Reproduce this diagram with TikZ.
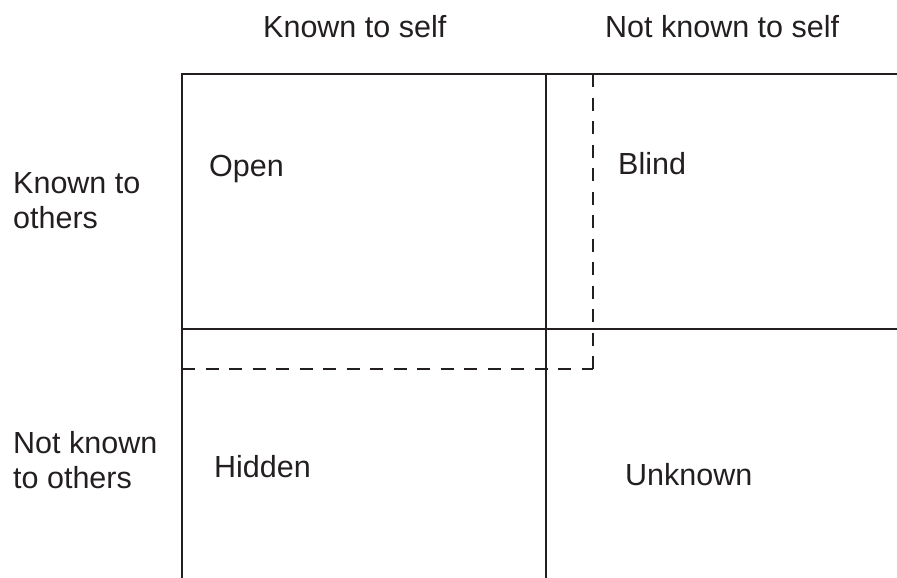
\documentclass[tikz,border=0pt]{standalone}
\usepackage{fontspec}
\setmainfont{Liberation Sans}
\definecolor{ink}{HTML}{231F20}
\begin{document}
\begin{tikzpicture}[x=1pt,y=-1pt,
  gridline/.style={draw=ink,line width=1.6pt},
  dashline/.style={draw=ink,line width=1.6pt,dash pattern=on 13pt off 10.5pt},
  lbl/.style={anchor=base west,inner sep=0pt,text=ink,align=left,
    font=\fontsize{30.5}{35}\selectfont}]
\useasboundingbox (0,0) rectangle (897,578);
% grid corners
\coordinate (tl) at (182,74);
\coordinate (tm) at (546,74);
\coordinate (tr) at (897,74);
\coordinate (ml) at (182,329);
\coordinate (mr) at (897,329);
\coordinate (bl) at (182,578);
\coordinate (bm) at (546,578);
\coordinate (dtop) at (593,74);
\coordinate (dcorner) at (593,369);
\coordinate (dleft) at (182,369);
% solid lines
\draw[gridline] (bl) -- (tl) -- (tr);
\draw[gridline] (tm) -- (bm);
\draw[gridline] (ml) -- (mr);
% dashed boundary
\draw[dashline] (dtop) -- (dcorner);
\draw[dashline] (dleft) -- (dcorner);
% labels
\node[lbl] (kts) at (263,38) {Known to self};
\node[lbl] (nkts) at (605,38) {Not known to self};
\node[lbl] (kto) at (13,228) {Known to\\others};
\node[lbl] (nkto) at (13,488) {Not known\\to others};
\node[lbl] (open) at (209,176) {Open};
\node[lbl] (blind) at (618,174) {Blind};
\node[lbl] (hidden) at (214,477) {Hidden};
\node[lbl] (unknown) at (625,485) {Unknown};
\end{tikzpicture}
\end{document}
